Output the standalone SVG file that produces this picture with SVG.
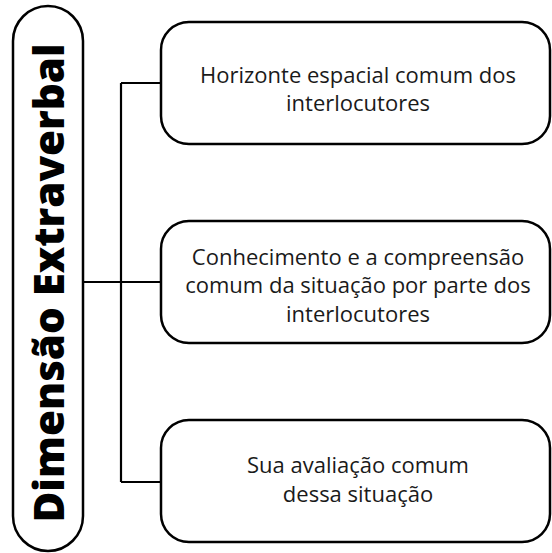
<svg xmlns="http://www.w3.org/2000/svg" width="552" height="553" viewBox="0 0 552 553">
<style>
.box{fill:#fff;stroke:#000;stroke-width:2.5}
.lbl{font-family:"Open Sans","Noto Sans",sans-serif;font-size:22px;fill:#1a1a1a;text-anchor:middle}
.title{font-family:"Open Sans","Noto Sans",sans-serif;font-size:42px;font-weight:800;fill:#000;text-anchor:middle}
.conn{fill:none;stroke:#000;stroke-width:2.2}
</style>
<rect width="552" height="553" fill="#fff"/>
<g id="connectors">
<path class="conn" d="M121,83 V482 M121,83 H161 M82,282 H161 M121,482 H161"/>
</g>
<g id="title">
<rect class="box" x="13" y="6" width="70" height="545" rx="35"/>
<text class="title" transform="translate(64,283) rotate(-90)">Dimensão Extraverbal</text>
</g>
<g id="node1">
<rect class="box" x="161" y="22" width="389" height="122" rx="28"/>
<text class="lbl" x="358" y="82.5">Horizonte espacial comum dos</text>
<text class="lbl" x="358" y="110.5">interlocutores</text>
</g>
<g id="node2">
<rect class="box" x="161" y="221" width="389" height="122" rx="28"/>
<text class="lbl" x="358" y="265">Conhecimento e a compreensão</text>
<text class="lbl" x="358" y="293">comum da situação por parte dos</text>
<text class="lbl" x="358" y="321.5">interlocutores</text>
</g>
<g id="node3">
<rect class="box" x="161" y="420" width="389" height="122" rx="28"/>
<text class="lbl" x="358" y="473">Sua avaliação comum</text>
<text class="lbl" x="358" y="501.5">dessa situação</text>
</g>
</svg>
